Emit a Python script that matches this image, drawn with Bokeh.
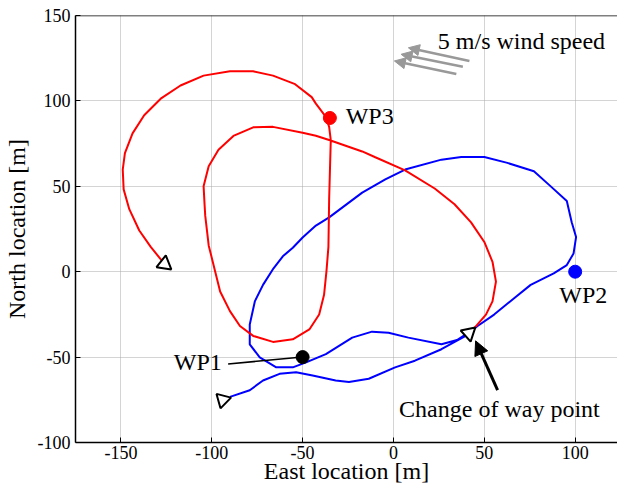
from bokeh.plotting import figure
from bokeh.models import Range1d, FixedTicker, Span, Arrow, NormalHead, Label, ColumnDataSource
from bokeh.embed import file_html
from bokeh.resources import INLINE

FONT = "Liberation Serif"

# ---- tick values and labels ----
x_ticks = [-150, -100, -50, 0, 50, 100]
x_tick_labels = ["-150", "-100", "-50", "0", "50", "100"]
y_ticks = [-100, -50, 0, 50, 100, 150]
y_tick_labels = ["-100", "-50", "0", "50", "100", "150"]

# ---- blue trajectory (towards WP2) ----
blue_east = [-90, -79.1, -71.8, -62.7, -53.6, -44.5, -31.8, -24.5, -13.6, 0.9, 11.8, 26.4,
             39, 46.3, 55.4, 66.4, 75.5, 88.2, 95.4, 99.1, 100.5, 98.1, 95.4, 86.4, 77.3,
             62.7, 50, 37.3, 26.4, 6.4, -4.5, -17.2, -35.4, -42.7, -50, -55.4, -60.9, -66,
             -71.8, -76.3, -79.1, -79.1, -73.6, -64.5, -55.4, -48.1, -37.2, -22.7, -11.8,
             -2.7, 8.2, 26.4, 35, 41.5]
blue_north = [-73.3, -69.4, -63.7, -59.8, -58.9, -60.8, -63.7, -64.6, -62.7, -56, -52.1, -45.4,
              -38, -31.8, -25.1, -15.5, -7.7, -1, 3.9, 10.6, 20.3, 28.9, 41.4, 50.1, 58.8,
              63.7, 67.1, 67.1, 65.6, 59.8, 54, 46.3, 31.8, 27, 20, 14, 9, 2,
              -7.7, -17.4, -30.9, -42.5, -50.2, -56, -56, -53.1, -48.3, -38.6, -35.1,
              -35.7, -38.6, -42.5, -40, -35.5]

# ---- red trajectory (towards WP3) ----
red_east = [44.5, 50.9, 54.5, 56.4, 54.5, 50, 42.7, 33.6, 22.7, 6.4, -10, -17.2, -35.4,
            -42.7, -50, -66.3, -77.2, -88.1, -96.3, -101.7, -104.5, -104, -103.6, -101.7,
            -98.1, -95.4, -90, -84.5, -77.2, -66.3, -55.4, -46.3, -40.9, -38.2, -36.9,
            -35.8, -35.4, -34.9, -34.5, -35.4, -37.2, -42.7, -45, -54.5, -66.3, -77.2,
            -90, -104.5, -117.2, -128.1, -137.2, -143.6, -147.8, -149, -148.5, -145.4,
            -139.9, -133.6, -127.5]
red_north = [-33, -25.1, -17.4, -5.8, 5.8, 17.4, 28.9, 39.5, 48.7, 59.3, 67, 70.4, 77.1,
             79.6, 81.4, 84.8, 84.5, 79.5, 71.4, 61.7, 50.1, 40, 32.8, 15.4,
             0, -11.6, -23.1, -31.8, -37.6, -41.1, -39.6, -33.8, -25.1, -13.5, 0,
             14.5, 42.4, 61.7, 77.1, 84.8, 90.6, 98.4, 102.2, 110, 114.8, 117.3,
             117.3, 114.8, 109, 101.3, 91.6, 81, 69.4, 59.8, 48.2, 36.6,
             24.1, 14.5, 6.5]

# ---- way points ----
wp_names = ["WP1", "WP2", "WP3"]
wp_east = [-50, 100, -35]
wp_north = [-50, 0, 90]
wp_colors = ["black", "blue", "red"]

# label anchors for way points
wp_label_east = [-94.5, 104.5, -26.3]
wp_label_north = [-52.6, -13.5, 91]
wp_label_align = ["right", "center", "left"]
wp1_leader_east = [-91, -50]
wp1_leader_north = [-54, -50]

# ---- aircraft heading markers ----
tri_east = [-94, 41.5, -126]
tri_north = [-75.1, -36, 4.5]
tri_heading_deg = [-74.5, -48.3, -128.4]

# ---- wind arrows ----
wind_tail_east = [41.8, 38.2, 34.6]
wind_tail_north = [123.4, 120, 115.7]
wind_tip_east = [8.2, 4.2, 0.5]
wind_tip_north = [131.1, 127.3, 123.4]
wind_label = "5 m/s wind speed"
wind_label_pos = (24.4, 135)

# ---- change-of-way-point arrow ----
change_tail = (57.3, -69.4)
change_tip = (45.2, -40.5)
change_label = "Change of way point"
change_label_pos = (3.1, -80.6)

p = figure(width=617, height=487, output_backend="svg", toolbar_location=None,
           x_range=Range1d(-175, 123.3), y_range=Range1d(-100, 150),
           min_border_left=70, min_border_right=0, min_border_top=15, min_border_bottom=45,
           background_fill_color="white", border_fill_color="white")
p.outline_line_color = None

for ax, ticks, labels in ((p.xaxis, x_ticks, x_tick_labels), (p.yaxis, y_ticks, y_tick_labels)):
    ax.ticker = FixedTicker(ticks=ticks)
    ax.major_label_overrides = {t: l for t, l in zip(ticks, labels)}
    ax.major_tick_in = 5
    ax.major_tick_out = 0
    ax.minor_tick_line_color = None
    ax.axis_line_color = "black"
    ax.axis_line_width = 1.5
    ax.major_tick_line_color = "black"
    ax.major_tick_line_width = 1
    ax.major_label_text_font = FONT
    ax.major_label_text_font_size = "18px"
    ax.major_label_text_color = "black"
    ax.axis_label_text_font = FONT
    ax.axis_label_text_font_size = "24px"
    ax.axis_label_text_font_style = "normal"
    ax.axis_label_text_color = "black"

p.xaxis.axis_label = "East location [m]"
p.yaxis.axis_label = "North location [m]"
p.xaxis.major_label_standoff = 3
p.xaxis.axis_label_standoff = -4
p.yaxis.major_label_standoff = 5
p.yaxis.axis_label_standoff = 5

p.xgrid.ticker = FixedTicker(ticks=x_ticks)
p.ygrid.ticker = FixedTicker(ticks=y_ticks)
for g in (p.xgrid, p.ygrid):
    g.grid_line_color = "#a8a8a8"
    g.grid_line_dash = "1 1"
    g.grid_line_width = 1

p.add_layout(Span(location=150, dimension="width", line_color="black", line_width=1.5))

p.line(blue_east, blue_north, line_color="blue", line_width=2)
p.line(red_east, red_north, line_color="red", line_width=2)

p.line(wp1_leader_east, wp1_leader_north, line_color="black", line_width=1.5)

tri_src = ColumnDataSource(dict(x=tri_east, y=tri_north, a=tri_heading_deg))
p.scatter("x", "y", source=tri_src, marker="triangle", size=15, angle="a", angle_units="deg",
          fill_color="white", line_color="black", line_width=2)

wp_src = ColumnDataSource(dict(x=wp_east, y=wp_north, c=wp_colors))
p.scatter("x", "y", source=wp_src, marker="circle", size=13, fill_color="c", line_color="c")

for name, lx, ly, al in zip(wp_names, wp_label_east, wp_label_north, wp_label_align):
    p.add_layout(Label(x=lx, y=ly, text=name, text_font=FONT, text_font_size="24px",
                       text_align=al, text_baseline="middle", text_color="black"))

for tx, ty, hx, hy in zip(wind_tail_east, wind_tail_north, wind_tip_east, wind_tip_north):
    p.add_layout(Arrow(end=NormalHead(size=11, fill_color="#999999", line_color="#999999"),
                       x_start=tx, y_start=ty, x_end=hx, y_end=hy,
                       line_color="#999999", line_width=2.5))

p.add_layout(Label(x=wind_label_pos[0], y=wind_label_pos[1], text=wind_label, text_font=FONT,
                   text_font_size="24px", text_align="left", text_baseline="middle",
                   text_color="black"))

p.add_layout(Arrow(end=NormalHead(size=14, fill_color="black", line_color="black"),
                   x_start=change_tail[0], y_start=change_tail[1],
                   x_end=change_tip[0], y_end=change_tip[1],
                   line_color="black", line_width=3))
p.add_layout(Label(x=change_label_pos[0], y=change_label_pos[1], text=change_label,
                   text_font=FONT, text_font_size="24px", text_align="left",
                   text_baseline="middle", text_color="black"))

open("out.html", "w").write(file_html(p, INLINE))
